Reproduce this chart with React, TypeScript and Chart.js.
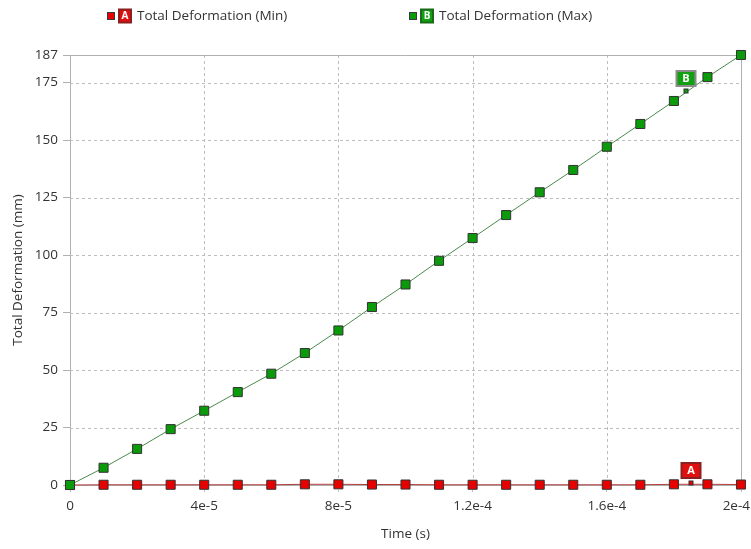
import { useEffect, useRef } from "react";
import { Chart, registerables } from "chart.js";

Chart.register(...registerables);

// Time steps (s)
const times = [
  0, 1e-5, 2e-5, 3e-5, 4e-5, 5e-5, 6e-5, 7e-5, 8e-5, 9e-5, 1e-4,
  1.1e-4, 1.2e-4, 1.3e-4, 1.4e-4, 1.5e-4, 1.6e-4, 1.7e-4, 1.8e-4, 1.9e-4, 2e-4,
];

// Total deformation (mm)
const deformationMin = [
  0, 0.1, 0.1, 0.1, 0.1, 0.1, 0.1, 0.3, 0.3, 0.2, 0.2,
  0.1, 0.1, 0.1, 0.1, 0.1, 0.1, 0.1, 0.3, 0.3, 0.2,
];
const deformationMax = [
  0, 7.5, 15.7, 24.3, 32.3, 40.4, 48.4, 57.4, 67.2, 77.4, 87.2,
  97.5, 107.4, 117.4, 127.3, 137.0, 147.1, 157.0, 167.0, 177.4, 187.0,
];

const seriesNames = ["Total Deformation (Min)", "Total Deformation (Max)"];
const seriesLetters = ["A", "B"];

// Probe annotations: time and value where each letter tag sits
const probeTimes = [1.85e-4, 1.837e-4];
const probeValues = [1.0, 171.2];

const xTickValues = [0, 4e-5, 8e-5, 1.2e-4, 1.6e-4, 2e-4];
const xTickLabels = ["0", "4e-5", "8e-5", "1.2e-4", "1.6e-4", "2e-4"];
const yTickValues = [0, 25, 50, 75, 100, 125, 150, 175, 187];

const FONT = "'Open Sans', 'DejaVu Sans', sans-serif";
const FONT_SIZE = 13.5;
const TEXT = "#333333";
const GRID = "#bdbdbd";
const FRAME = "#b0b0b0";
const markerFill = ["#e60000", "#0a9a0a"];
const lineColor = ["#b23a3a", "#4b8a4b"];
const badgeFill = ["#e01010", "#12a012"];

const framePlugin = {
  id: "frameGrid",
  beforeDatasetsDraw(chart: any) {
    const { ctx, chartArea, scales } = chart;
    const { left, right, top, bottom } = chartArea;
    ctx.save();
    ctx.lineWidth = 1;
    ctx.strokeStyle = GRID;
    ctx.setLineDash([3, 3]);
    yTickValues.slice(1, -1).forEach((v) => {
      const py = Math.round(scales.y.getPixelForValue(v)) + 0.5;
      ctx.beginPath();
      ctx.moveTo(left, py);
      ctx.lineTo(right, py);
      ctx.stroke();
    });
    xTickValues.slice(1, -1).forEach((v) => {
      const px = Math.round(scales.x.getPixelForValue(v)) + 0.5;
      ctx.beginPath();
      ctx.moveTo(px, top);
      ctx.lineTo(px, bottom);
      ctx.stroke();
    });
    ctx.setLineDash([]);
    ctx.strokeStyle = FRAME;
    const t = Math.round(top) + 0.5;
    const r = Math.round(right) + 0.5;
    ctx.beginPath();
    ctx.moveTo(left, t);
    ctx.lineTo(r, t);
    ctx.lineTo(r, bottom);
    ctx.stroke();

    // x tick labels, kept inside the canvas at the right edge
    ctx.fillStyle = TEXT;
    ctx.font = `${FONT_SIZE}px ${FONT}`;
    ctx.textAlign = "center";
    ctx.textBaseline = "middle";
    xTickValues.forEach((v, i) => {
      const px = scales.x.getPixelForValue(v);
      const w = ctx.measureText(xTickLabels[i]).width;
      const cx = Math.min(px, chart.width - 1 - w / 2);
      ctx.fillText(xTickLabels[i], cx, bottom + 21);
    });
    ctx.restore();
  },
};

function drawBadge(ctx: CanvasRenderingContext2D, cx: number, cy: number, w: number, h: number, fill: string, letter: string, border: string, size: number) {
  ctx.fillStyle = border;
  ctx.fillRect(cx - w / 2 - 1, cy - h / 2 - 1, w + 2, h + 2);
  ctx.fillStyle = fill;
  ctx.fillRect(cx - w / 2 + 1, cy - h / 2 + 1, w - 2, h - 2);
  ctx.fillStyle = "#ffffff";
  ctx.font = `bold ${size}px ${FONT}`;
  ctx.textAlign = "center";
  ctx.textBaseline = "middle";
  ctx.fillText(letter, cx, cy + 0.5);
}

const annotationPlugin = {
  id: "probesLegend",
  afterDatasetsDraw(chart: any) {
    const { ctx, scales } = chart;
    ctx.save();
    // probe tags
    probeTimes.forEach((t, i) => {
      const px = Math.round(scales.x.getPixelForValue(t));
      const py = Math.round(scales.y.getPixelForValue(probeValues[i]));
      ctx.fillStyle = "#333333";
      ctx.fillRect(px - 2.5, py - 2.5, 5, 5);
      ctx.fillStyle = markerFill[i];
      ctx.fillRect(px - 1.5, py - 1.5, 3, 3);
      drawBadge(ctx, px, py - 12.5, 19, 15, badgeFill[i], seriesLetters[i], i === 0 ? "#8a2020" : "#8c8c8c", 11);
    });
    ctx.restore();
  },
  afterDraw(chart: any) {
    const { ctx, width } = chart;
    ctx.save();
    const starts = [107, 409];
    const cy = 16;
    seriesNames.forEach((name, i) => {
      const x0 = (starts[i] / 751) * width;
      ctx.fillStyle = "#3a3a3a";
      ctx.fillRect(x0, cy - 4, 8, 8);
      ctx.fillStyle = markerFill[i];
      ctx.fillRect(x0 + 1, cy - 3, 6, 6);
      drawBadge(ctx, x0 + 18, cy, 12, 13, badgeFill[i], seriesLetters[i], i === 0 ? "#8a2020" : "#1a6a1a", 10);
      ctx.fillStyle = TEXT;
      ctx.font = `${FONT_SIZE}px ${FONT}`;
      ctx.textAlign = "left";
      ctx.textBaseline = "middle";
      ctx.fillText(name, x0 + 30, cy);
    });
    ctx.restore();
  },
};

export default function App() {
  const canvasRef = useRef<HTMLCanvasElement | null>(null);

  useEffect(() => {
    const canvas = canvasRef.current;
    if (!canvas) return;
    const makeData = (vals: number[]) => times.map((t, i) => ({ x: t, y: vals[i] }));
    const chart = new Chart(canvas, {
      type: "line",
      data: {
        datasets: [
          {
            label: seriesNames[0],
            data: makeData(deformationMin),
            borderColor: lineColor[0],
            borderWidth: 1,
            backgroundColor: markerFill[0],
            pointStyle: "rect",
            pointRadius: 6.4,
            pointBorderColor: "#333333",
            pointBorderWidth: 1,
            pointBackgroundColor: markerFill[0],
            tension: 0,
            clip: false,
            order: 1,
          },
          {
            label: seriesNames[1],
            data: makeData(deformationMax),
            borderColor: lineColor[1],
            borderWidth: 1,
            backgroundColor: markerFill[1],
            pointStyle: "rect",
            pointRadius: 6.4,
            pointBorderColor: "#333333",
            pointBorderWidth: 1,
            pointBackgroundColor: markerFill[1],
            tension: 0,
            clip: false,
            order: 0,
          },
        ],
      },
      options: {
        responsive: false,
        animation: false,
        devicePixelRatio: 1,
        layout: { padding: { top: 55, right: 10, left: 0, bottom: 0 } },
        plugins: {
          legend: { display: false },
          tooltip: { enabled: false },
        },
        scales: {
          x: {
            type: "linear",
            min: 0,
            max: 2e-4,
            afterBuildTicks: (scale: any) => {
              scale.ticks = xTickValues.map((v) => ({ value: v }));
            },
            afterFit: (scale: any) => {
              scale.height = 64;
              scale.paddingLeft = 0;
              scale.paddingRight = 0;
            },
            ticks: {
              display: false,
              maxRotation: 0,
            },
            grid: {
              drawOnChartArea: false,
              drawTicks: true,
              tickLength: 7,
              color: GRID,
              tickBorderDash: [2, 2],
            },
            border: { display: true, color: FRAME },
            title: {
              display: true,
              text: "Time (s)",
              color: TEXT,
              font: { family: FONT, size: FONT_SIZE },
              padding: { top: 0, bottom: 7 },
            },
          },
          y: {
            type: "linear",
            min: 0,
            max: 187,
            afterBuildTicks: (scale: any) => {
              scale.ticks = yTickValues.map((v) => ({ value: v }));
            },
            afterFit: (scale: any) => {
              scale.width = 70;
              scale.paddingTop = 0;
              scale.paddingBottom = 0;
            },
            ticks: {
              callback: (v: any) => String(v),
              color: TEXT,
              font: { family: FONT, size: FONT_SIZE },
              padding: 5,
            },
            grid: {
              drawOnChartArea: false,
              drawTicks: true,
              tickLength: 7,
              color: FRAME,
            },
            border: { display: true, color: FRAME },
            title: {
              display: true,
              text: "Total Deformation (mm)",
              color: TEXT,
              font: { family: FONT, size: FONT_SIZE },
              padding: { top: 10, bottom: 0 },
            },
          },
        },
      },
      plugins: [framePlugin, annotationPlugin],
    });
    return () => chart.destroy();
  }, []);

  return (
    <div style={{ position: "fixed", left: 0, top: 0, width: 751, height: 549, background: "#ffffff" }}>
      <canvas ref={canvasRef} width={751} height={549} style={{ width: 751, height: 549, display: "block" }} />
    </div>
  );
}
